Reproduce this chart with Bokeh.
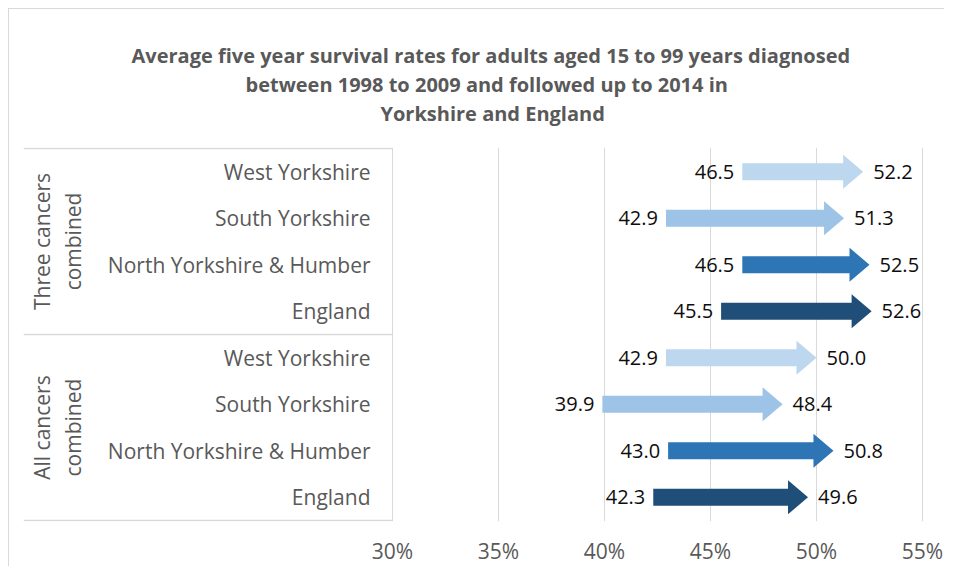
import math
from bokeh.plotting import figure
from bokeh.models import ColumnDataSource, FixedTicker, Range1d, Title, PrintfTickFormatter
from bokeh.core.properties import value
from bokeh.embed import file_html
from bokeh.resources import INLINE

# ---------------- data ----------------
title_lines = [
    "Average five year survival rates for adults aged 15 to 99 years diagnosed",
    "between 1998 to 2009 and followed up to 2014 in",
    "Yorkshire and England",
]
groups = ["Three cancers\ncombined", "All cancers\ncombined"]
regions = ["West Yorkshire", "South Yorkshire", "North Yorkshire & Humber", "England"]
three_start = [46.5, 42.9, 46.5, 45.5]
three_end = [52.2, 51.3, 52.5, 52.6]
all_start = [42.9, 39.9, 43.0, 42.3]
all_end = [50.0, 48.4, 50.8, 49.6]
region_colors = ["#BDD7EE", "#9DC3E6", "#2E75B6", "#1F4E79"]
x_ticks = [30, 35, 40, 45, 50, 55]

# ---------------- layout constants ----------------
FONT = "Open Sans"
GREY = "#595959"
LINE = "#D9D9D9"
W, H = 936, 558
BORDER_L, BORDER_T, BORDER_B = 14, 138, 43
PX_PER_UNIT = 21.2
frame_w = W - BORDER_L
x_lo = x_ticks[0] - 369 / PX_PER_UNIT
x_hi = x_lo + frame_w / PX_PER_UNIT
n_rows = len(groups) * len(regions)
row_px = 373 / n_rows
title_offsets = [108, 222, 357]

# ---------------- build rows ----------------
starts = three_start + all_start
ends = three_end + all_end
labels = regions + regions
colors = region_colors + region_colors
ys = [n_rows - 0.5 - i for i in range(n_rows)]

head_len = 20 / PX_PER_UNIT
half_shaft = 8.5 / row_px
half_head = 17 / row_px

xs_poly, ys_poly = [], []
for s, e, y in zip(starts, ends, ys):
    b = e - head_len
    xs_poly.append([s, b, b, e, b, b, s])
    ys_poly.append([y + half_shaft, y + half_shaft, y + half_head, y,
                    y - half_head, y - half_shaft, y - half_shaft])

arrows = ColumnDataSource(dict(xs=xs_poly, ys=ys_poly, color=colors))
rows = ColumnDataSource(dict(
    start=starts, end=ends, y=ys, label=labels,
    start_txt=[f"{v:.1f}" for v in starts],
    end_txt=[f"{v:.1f}" for v in ends],
    cat_x=[x_ticks[0]] * n_rows,
))
grp_y = [n_rows - len(regions) * (g + 0.5) for g in range(len(groups))]
grp = ColumnDataSource(dict(x=[x_ticks[0]] * len(groups), y=grp_y, text=groups))

p = figure(width=W, height=H, output_backend="svg", toolbar_location=None,
           x_range=Range1d(x_lo, x_hi), y_range=Range1d(-0.02, n_rows + 0.02),
           min_border_left=BORDER_L, min_border_right=0,
           min_border_top=BORDER_T, min_border_bottom=BORDER_B,
           y_axis_location=None, title=None)
p.outline_line_color = None
p.background_fill_color = "white"
p.border_fill_color = "white"
p.styles = {"margin-left": "8px", "margin-top": "8px",
            "border-left": "1px solid #D9D9D9", "border-top": "1px solid #D9D9D9"}

# spacer between the frame and the last title line
p.add_layout(Title(text=" ", text_font=FONT, text_font_size="10px", standoff=5), "above")
# titles (bottom line first so it sits closest to the frame)
for t, off in reversed(list(zip(title_lines, title_offsets))):
    p.add_layout(Title(text=t, align="left", offset=off, text_font=FONT,
                       text_font_size="20px", text_font_style="bold",
                       text_color=GREY, standoff=0), "above")

# grid / axis
p.ygrid.visible = False
p.xgrid.ticker = FixedTicker(ticks=x_ticks)
p.xgrid.grid_line_color = LINE
p.xgrid.grid_line_width = 1
p.xaxis.ticker = FixedTicker(ticks=x_ticks)
p.xaxis.formatter = PrintfTickFormatter(format="%d%%")
p.xaxis.axis_line_color = None
p.xaxis.major_tick_line_color = None
p.xaxis.minor_tick_line_color = None
p.xaxis.major_tick_out = 0
p.xaxis.major_tick_in = 0
p.xaxis.minor_tick_out = 0
p.xaxis.major_label_text_font = FONT
p.xaxis.major_label_text_font_size = "21px"
p.xaxis.major_label_text_color = GREY
p.xaxis.major_label_standoff = 15

# category box lines (left table)
box_y = [n_rows, n_rows - len(regions), 0]
p.segment(x0=[x_lo] * 3, x1=[x_ticks[0]] * 3, y0=box_y, y1=box_y,
          line_color=LINE, line_width=1.5)

# arrows
p.patches("xs", "ys", source=arrows, fill_color="color", line_color=None)

# value labels
p.text(x="start", y="y", text="start_txt", source=rows, text_align="right",
       text_baseline="middle", x_offset=-8, text_font=value(FONT),
       text_font_size="20px", text_color="#0d0d0d")
p.text(x="end", y="y", text="end_txt", source=rows, text_align="left",
       text_baseline="middle", x_offset=10, text_font=value(FONT),
       text_font_size="20px", text_color="#0d0d0d")

# category labels
p.text(x="cat_x", y="y", text="label", source=rows, text_align="right",
       text_baseline="middle", x_offset=-22, text_font=value(FONT),
       text_font_size="21px", text_color=GREY)

# group labels (rotated)
p.text(x="x", y="y", text="text", source=grp, angle=math.pi / 2,
       text_align="center", text_baseline="middle", x_offset=-335,
       text_font=value(FONT), text_font_size="21px", text_color=GREY,
       text_line_height=1.1)

open("out.html", "w").write(file_html(p, INLINE))
